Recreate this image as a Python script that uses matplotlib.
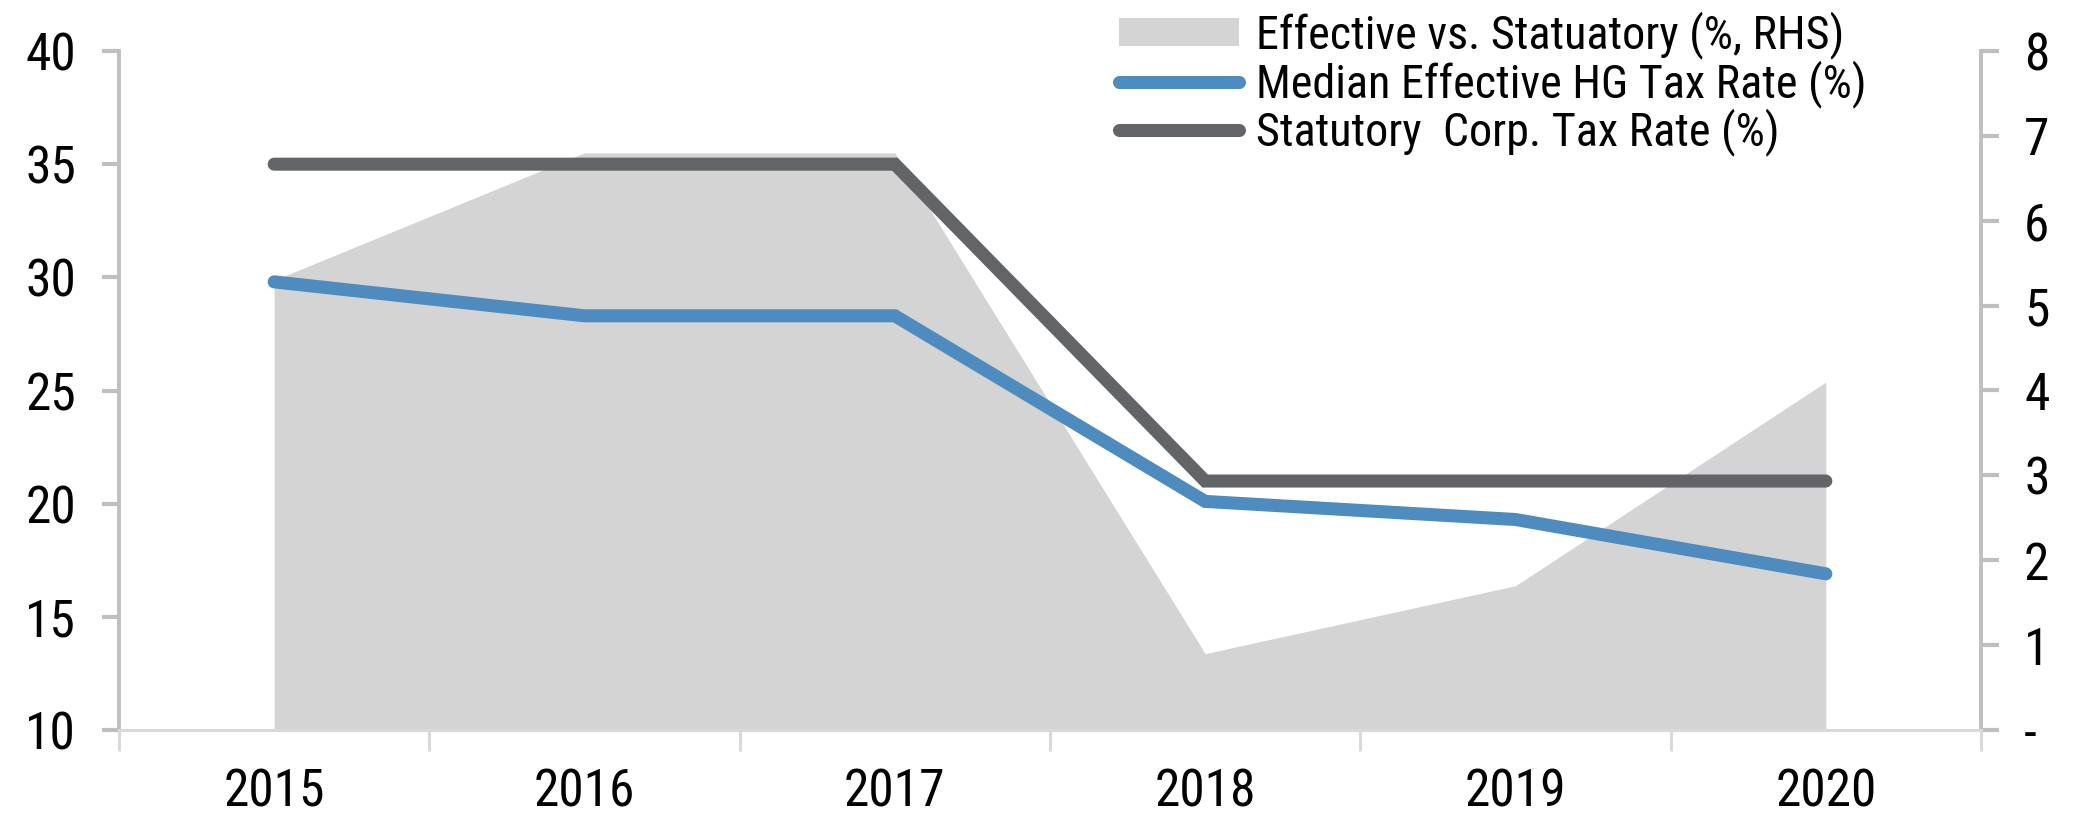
import os
import matplotlib
matplotlib.use('Agg')
import matplotlib.pyplot as plt
import numpy as np
from matplotlib import font_manager
from matplotlib.font_manager import FontProperties
from matplotlib.textpath import TextToPath

# chart data
years = ['2015', '2016', '2017', '2018', '2019', '2020']
median_eff = [29.8, 28.3, 28.3, 20.1, 19.3, 16.9]
statutory = [35, 35, 35, 21, 21, 21]
eff_vs_stat = [5.3, 6.8, 6.8, 0.9, 1.7, 4.1]

left_ticks = [10, 15, 20, 25, 30, 35, 40]
right_ticks = [0, 1, 2, 3, 4, 5, 6, 7, 8]
right_labels = ['-', '1', '2', '3', '4', '5', '6', '7', '8']

lbl_area = 'Effective vs. Statuatory (%, RHS)'
lbl_median = 'Median Effective HG Tax Rate (%)'
lbl_stat = 'Statutory  Corp. Tax Rate (%)'

# colours
c_area = '#d4d4d4'
c_blue = '#4e8bbe'
c_gray = '#636468'
c_axis = '#bfbfbf'
c_xaxis = '#d9d9d9'

# the original uses a narrow sans; take one if installed
narrow = ['LiberationSansNarrow-Regular', 'ArialNarrow', 'arialn',
          'NotoSans-Condensed', 'RobotoCondensed-Regular',
          'Roboto_Condensed-Regular', 'DejaVuSansCondensed',
          'OpenSans_Condensed-Regular', 'OpenSansCondensed-Regular']
paths = {os.path.splitext(os.path.basename(f.fname))[0]: f.fname
         for f in font_manager.fontManager.ttflist}
chosen = next((paths[c] for c in narrow if c in paths), None)
if chosen:
    base = FontProperties(fname=chosen)
else:
    base = FontProperties(family='Liberation Sans')

# legend size: keep the label width near the original (~610 px)
p10 = base.copy()
p10.set_size(10)
w10 = TextToPath().get_text_width_height_descent(lbl_median, p10, ismath=False)[0]
fs_leg = min(35, 10 * 440 / w10)
fs_tick = 36 if not chosen else 37

prop_leg = base.copy()
prop_leg.set_size(fs_leg)
prop_tick = base.copy()
prop_tick.set_size(fs_tick)

W, H = 2082, 830
fig = plt.figure(figsize=(W / 100, H / 100), dpi=100)
ax = fig.add_axes([119 / W, 100 / H, (1981 - 119) / W, (730 - 51) / H])
ax2 = ax.twinx()

x = np.arange(len(years))

# area on the right axis, lines on the left axis
ax2.fill_between(x, 0, eff_vs_stat, color=c_area, linewidth=0, label=lbl_area)
ax.plot(x, median_eff, color=c_blue, lw=9.4, solid_capstyle='round',
        solid_joinstyle='miter', label=lbl_median)
ax.plot(x, statutory, color=c_gray, lw=9.4, solid_capstyle='round',
        solid_joinstyle='miter', label=lbl_stat)

# lines over the area
ax.set_zorder(ax2.get_zorder() + 1)
ax.patch.set_visible(False)

ax.set_xlim(-0.5, len(years) - 0.5)
ax.set_ylim(10, 40)
ax2.set_ylim(0, 8)

ax.set_yticks(left_ticks)
ax2.set_yticks(right_ticks)
ax2.set_yticklabels(right_labels)

# x ticks between categories, labels at centres
ax.set_xticks(np.arange(-0.5, len(years), 1))
ax.set_xticklabels([])
ax.set_xticks(x, minor=True)
ax.set_xticklabels(years, minor=True)

ax.tick_params(axis='x', which='major', length=15, width=2.2, color=c_xaxis, direction='out')
ax.tick_params(axis='x', which='minor', length=0, pad=27)
ax.tick_params(axis='y', length=12, width=3, color=c_axis, pad=19)
ax2.tick_params(axis='y', length=13, width=3, color=c_axis, pad=18)

for lab in (ax.get_xticklabels(minor=True) + ax.get_yticklabels()
            + ax2.get_yticklabels()):
    lab.set_fontproperties(prop_tick)

for s in ['top', 'right']:
    ax.spines[s].set_visible(False)
for s in ['top', 'left', 'bottom']:
    ax2.spines[s].set_visible(False)
ax.spines['left'].set_color(c_axis)
ax.spines['left'].set_linewidth(2.8)
ax.spines['bottom'].set_color(c_xaxis)
ax.spines['bottom'].set_linewidth(2.2)
ax2.spines['right'].set_color(c_axis)
ax2.spines['right'].set_linewidth(2.8)

fs_px = fs_leg * 100 / 72
h1, l1 = ax2.get_legend_handles_labels()
h2, l2 = ax.get_legend_handles_labels()
top_px = 30 - 0.41 * fs_px
fig.legend(h1 + h2, l1 + l2, loc='upper left',
           bbox_to_anchor=(1119 / W, (H - top_px) / H),
           frameon=False, prop=prop_leg, handlelength=120 / fs_px,
           handleheight=0.55, handletextpad=17 / fs_px,
           labelspacing=(45 - 0.96 * fs_px) / fs_px,
           borderpad=0, borderaxespad=0)

fig.savefig('out.png', dpi=100)
